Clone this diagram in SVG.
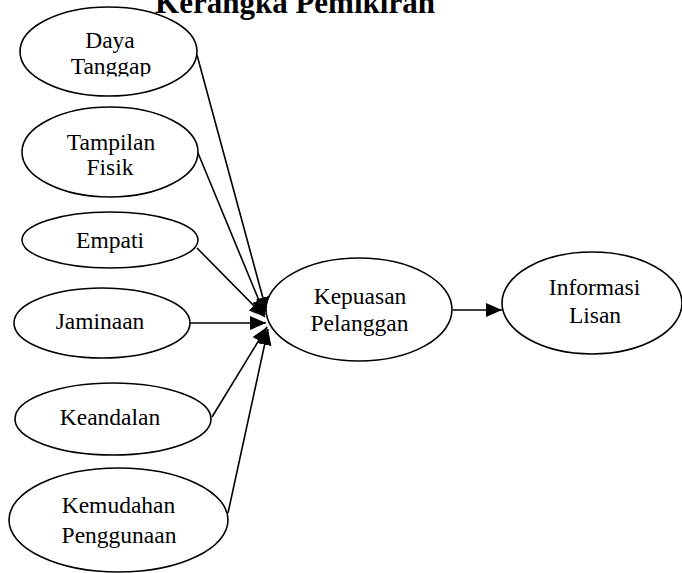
<svg xmlns="http://www.w3.org/2000/svg" width="682" height="573" viewBox="0 0 682 573">
<style>
.n{fill:#fff;stroke:#000;stroke-width:1.6}
.t{font-family:"Liberation Serif","Times New Roman",serif;font-size:23.5px;fill:#000;text-anchor:middle}
.title{font-family:"Liberation Serif","Times New Roman",serif;font-size:31px;font-weight:bold;fill:#000;text-anchor:middle}
.c{stroke:#000;stroke-width:1.6;fill:none}
</style>
<defs>
<marker id="ah" markerUnits="userSpaceOnUse" markerWidth="18" markerHeight="14" refX="16" refY="7" orient="auto">
<path d="M0,0 L16,7 L0,14 Z" fill="#000"/>
</marker>
<clipPath id="clipDaya"><rect x="0" y="0" width="682" height="76.5"/></clipPath>
</defs>
<rect width="682" height="573" fill="#fff"/>
<text class="title" x="295" y="13">Kerangka Pemikiran</text>
<g id="connectors">
<line class="c" x1="197" y1="55" x2="267" y2="313" marker-end="url(#ah)"/>
<line class="c" x1="198" y1="153" x2="265" y2="315" marker-end="url(#ah)"/>
<line class="c" x1="197" y1="248" x2="265" y2="317" marker-end="url(#ah)"/>
<line class="c" x1="190" y1="323" x2="266" y2="323" marker-end="url(#ah)"/>
<line class="c" x1="212" y1="417" x2="267" y2="327" marker-end="url(#ah)"/>
<line class="c" x1="228" y1="513" x2="268" y2="329" marker-end="url(#ah)"/>
<line class="c" x1="453" y1="310" x2="502" y2="310" marker-end="url(#ah)"/>
</g>
<g id="daya-tanggap">
<ellipse class="n" cx="108.5" cy="51.5" rx="88.5" ry="44.5"/>
<g clip-path="url(#clipDaya)">
<text class="t" x="110" y="48">Daya</text>
<text class="t" x="111" y="74">Tanggap</text>
</g>
</g>
<g id="tampilan-fisik">
<ellipse class="n" cx="110" cy="152" rx="88" ry="45"/>
<text class="t" x="111" y="150">Tampilan</text>
<text class="t" x="110" y="175">Fisik</text>
</g>
<g id="empati">
<ellipse class="n" cx="110" cy="240" rx="88" ry="28"/>
<text class="t" x="110" y="248">Empati</text>
</g>
<g id="jaminaan">
<ellipse class="n" cx="102" cy="323" rx="88" ry="35"/>
<text class="t" x="100" y="329">Jaminaan</text>
</g>
<g id="keandalan">
<ellipse class="n" cx="113" cy="419" rx="98" ry="36"/>
<text class="t" x="110" y="425">Keandalan</text>
</g>
<g id="kemudahan-penggunaan">
<ellipse class="n" cx="118.5" cy="520" rx="109.5" ry="52"/>
<text class="t" x="118.5" y="513">Kemudahan</text>
<text class="t" x="119" y="543">Penggunaan</text>
</g>
<g id="kepuasan-pelanggan">
<ellipse class="n" cx="359" cy="309.5" rx="93" ry="51.5"/>
<text class="t" x="360" y="304">Kepuasan</text>
<text class="t" x="359.5" y="331">Pelanggan</text>
</g>
<g id="informasi-lisan">
<ellipse class="n" cx="592" cy="303" rx="90" ry="51"/>
<text class="t" x="594.5" y="295">Informasi</text>
<text class="t" x="595" y="323">Lisan</text>
</g>
</svg>
